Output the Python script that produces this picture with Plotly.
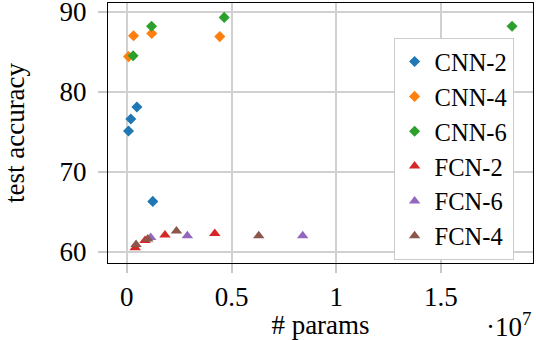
import plotly.graph_objects as go

# parameter counts (raw) and test accuracy per model family
cnn2_params = [0.08e6, 0.19e6, 0.48e6, 1.24e6]
cnn2_acc = [75.1, 76.6, 78.1, 66.3]

cnn4_params = [0.08e6, 0.32e6, 1.19e6, 4.44e6]
cnn4_acc = [84.4, 87.0, 87.3, 86.9]

cnn6_params = [0.30e6, 1.18e6, 4.65e6, 18.4e6]
cnn6_acc = [84.5, 88.2, 89.3, 88.2]

fcn2_params = [0.40e6, 0.87e6, 1.82e6, 4.20e6]
fcn2_acc = [60.5, 61.4, 62.1, 62.3]

fcn6_params = [1.14e6, 2.89e6, 8.40e6]
fcn6_acc = [61.8, 62.0, 62.0]

fcn4_params = [0.44e6, 1.00e6, 2.37e6, 6.30e6]
fcn4_acc = [60.9, 61.6, 62.6, 62.0]

x_ticks = [0, 0.5e7, 1e7, 1.5e7]
x_tick_text = ["0", "0.5", "1", "1.5"]
y_ticks = [60, 70, 80, 90]

FONT = "Liberation Serif"
FS = 27

series = [
    ("CNN-2", cnn2_params, cnn2_acc, "#1f77b4", "diamond", 8.5),
    ("CNN-4", cnn4_params, cnn4_acc, "#ff7f0e", "diamond", 8.5),
    ("CNN-6", cnn6_params, cnn6_acc, "#2ca02c", "diamond", 8.5),
    ("FCN-2", fcn2_params, fcn2_acc, "#d62728", "triangle-up", 10),
    ("FCN-6", fcn6_params, fcn6_acc, "#9467bd", "triangle-up", 10),
    ("FCN-4", fcn4_params, fcn4_acc, "#8c564b", "triangle-up", 10),
]

fig = go.Figure()
for name, xs, ys, color, symbol, size in series:
    fig.add_trace(go.Scatter(
        x=xs, y=ys, mode="markers", name=name,
        marker=dict(symbol=symbol, size=size, color=color, line=dict(width=0)),
    ))

axis_common = dict(
    showgrid=True, gridcolor="#d0d0d0", gridwidth=1.5,
    showline=True, linecolor="black", linewidth=1.3, mirror=True,
    ticks="outside", ticklen=9, tickcolor="#c8c8c8", tickwidth=1.5,
    zeroline=False, automargin=False, ticklabeloverflow="allow",
    tickfont=dict(family=FONT, size=FS, color="black"),
)

fig.update_layout(
    width=536, height=340,
    margin=dict(l=108, r=3, t=3, b=77),
    paper_bgcolor="white", plot_bgcolor="white",
    font=dict(family=FONT, size=FS, color="black"),
    xaxis=dict(
        range=[-0.9e6, 19.4e6],
        tickvals=x_ticks, ticktext=x_tick_text,
        title=dict(text="# params", font=dict(family=FONT, size=FS), standoff=2),
        **axis_common,
    ),
    yaxis=dict(
        range=[58.6, 91.1],
        tickvals=y_ticks, ticklabelstandoff=6,
        title=dict(text="test accuracy", font=dict(family=FONT, size=FS), standoff=34),
        **axis_common,
    ),
    legend=dict(
        x=0.672, y=0.865, xanchor="left", yanchor="top",
        bgcolor="white", bordercolor="#cccccc", borderwidth=1,
        font=dict(family=FONT, size=24.5),
        itemwidth=30, tracegroupgap=0,
    ),
    annotations=[dict(
        text="·10<sup>7</sup>", x=1.0, y=-0.165, xref="paper", yref="paper",
        xanchor="right", yanchor="top", showarrow=False,
        font=dict(family=FONT, size=FS),
    )],
)

# the page body has a default 8px margin; drop it so the figure sits at 0,0
fig.write_html(
    "out.html",
    config={"displayModeBar": False},
    post_script="document.body.style.margin='0';",
)
